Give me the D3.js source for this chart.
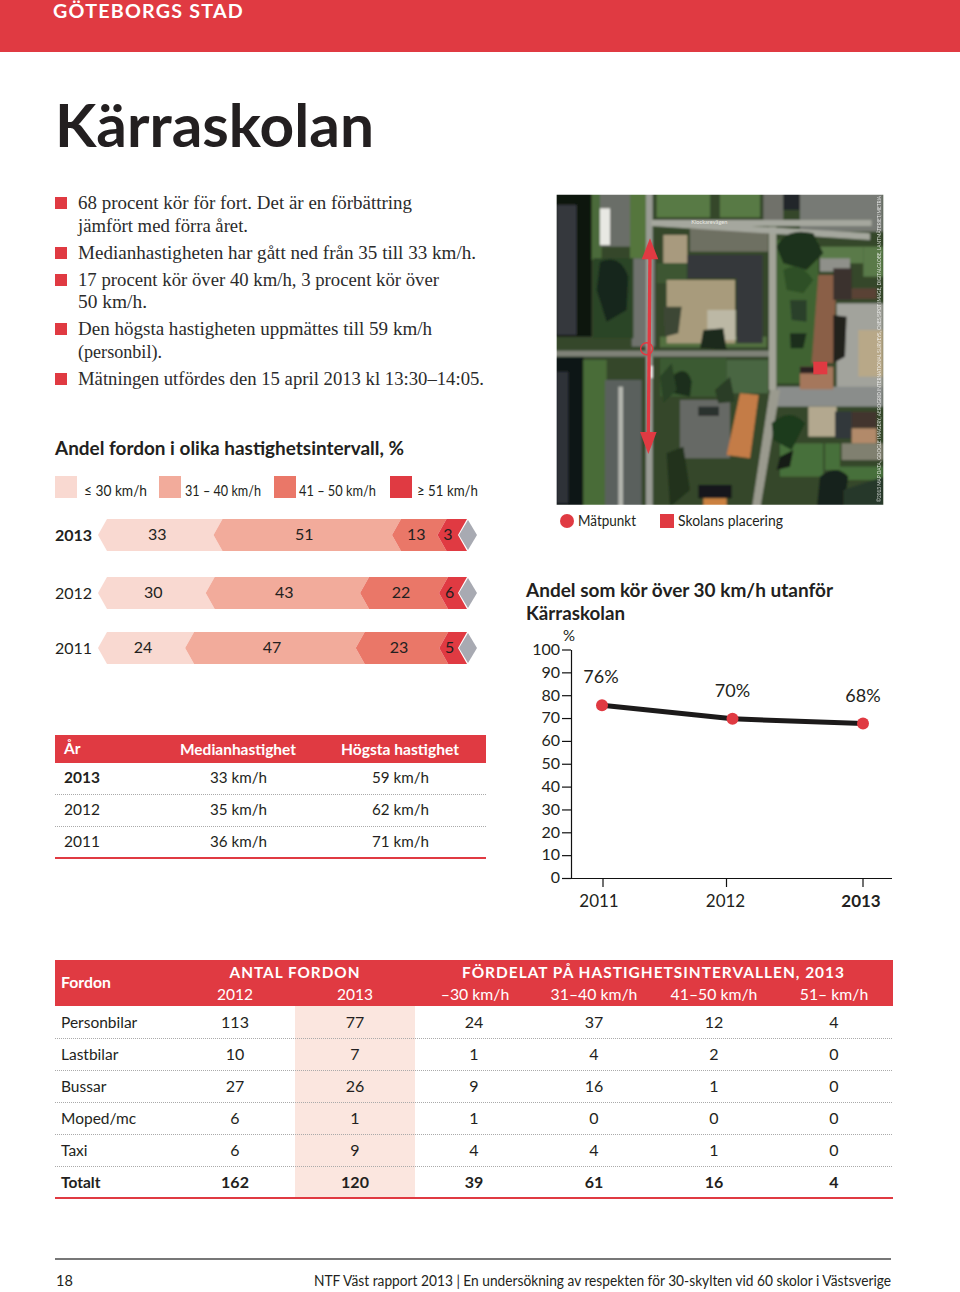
<!DOCTYPE html>
<html><head><meta charset="utf-8">
<script src="https://cdn.jsdelivr.net/npm/d3@7"></script>
<style>
html,body{margin:0;padding:0;background:#fff}
svg{display:block}
text{font-family:Lato,"Noto Sans",sans-serif;fill:#222}
.serif{font-family:"Liberation Serif",serif}
</style></head><body>
<svg id="c" width="960" height="1292"></svg>
<script>
const RED="#e03a42", TXT="#231f20";
const bullets=[
 ["68 procent kör för fort. Det är en förbättring","jämfört med förra året."],
 ["Medianhastigheten har gått ned från 35 till 33 km/h."],
 ["17 procent kör över 40 km/h, 3 procent kör över","50 km/h."],
 ["Den högsta hastigheten uppmättes till 59 km/h","(personbil)."],
 ["Mätningen utfördes den 15 april 2013 kl 13:30–14:05."]];
const speedBands=["≤ 30 km/h","31 – 40 km/h","41 – 50 km/h","≥ 51 km/h"];
const bandColors=["#f9d9d1","#f2ab9b","#ea7768","#e03a42"];
const barYears=["2013","2012","2011"];
const share2013=[33,51,13,3];
const share2012=[30,43,22,6];
const share2011=[24,47,23,5];
const lineYears=["2011","2012","2013"];
const lineValues=[76,70,68];
const lineTicks=[0,10,20,30,40,50,60,70,80,90,100];
const speedHead=["År","Medianhastighet","Högsta hastighet"];
const speedYears=["2013","2012","2011"];
const medianSpeed=["33 km/h","35 km/h","36 km/h"];
const maxSpeed=["59 km/h","62 km/h","71 km/h"];
const vehicles=["Personbilar","Lastbilar","Bussar","Moped/mc","Taxi","Totalt"];
const count2012=[113,10,27,6,6,162];
const count2013=[77,7,26,1,9,120];
const band30=[24,1,9,1,4,39];
const band40=[37,4,16,0,4,61];
const band50=[12,2,1,0,1,16];
const band51=[4,0,0,0,0,4];
const vehHead=["–30 km/h","31–40 km/h","41–50 km/h","51– km/h"];

const svg=d3.select("#c");
const T=(p,s,x,y,o={})=>{const t=p.append("text").text(s).attr("x",x).attr("y",y)
  .attr("font-size",o.size||16).attr("font-weight",o.w||400).attr("text-anchor",o.a||"start")
  .style("fill",o.fill||TXT);
  if(o.ls)t.style("letter-spacing",o.ls+"px"); if(o.cls)t.attr("class",o.cls); if(o.len)t.attr("textLength",o.len).attr("lengthAdjust","spacingAndGlyphs"); return t;};

// header
svg.append("rect").attr("width",960).attr("height",52).attr("fill",RED);
T(svg,"GÖTEBORGS STAD",53,18,{size:19.5,w:700,fill:"#fff",ls:1.2,len:191});
T(svg,"Kärraskolan",55,147,{size:60,w:700,len:319});

// bullets
const lineYs=[[209,232],[259],[286,308],[335,358],[385]];
const lineLens=[[334,170],[398],[361,69],[354,84],[406]];
bullets.forEach((ls,i)=>{
  svg.append("rect").attr("x",55).attr("y",lineYs[i][0]-12).attr("width",12).attr("height",12).attr("fill",RED);
  ls.forEach((l,j)=>T(svg,l,78,lineYs[i][j],{size:19,cls:"serif",fill:"#2b2b2b",len:lineLens[i][j]}));
});

// stacked chevrons
T(svg,"Andel fordon i olika hastighetsintervall, %",55,455,{size:19,w:700,len:349});
const legX=[55,159,274,390], legTX=[84,185,299,417], legLen=[63,76,77,61];
speedBands.forEach((b,i)=>{
  svg.append("rect").attr("x",legX[i]).attr("y",476).attr("width",22).attr("height",22).attr("fill",bandColors[i]);
  T(svg,b,legTX[i],496,{size:14.5,len:legLen[i]});
});
const rows=[{y:barYears[0],v:share2013,top:519,end:448,bold:true},
            {y:barYears[1],v:share2012,top:577,end:457},
            {y:barYears[2],v:share2011,top:632,end:461}];
const H=32,D=9,X100=458;
rows.forEach(r=>{
  const x=d3.scaleLinear().domain([0,100]).range([98,r.end]);
  T(svg,r.y,55,r.top+22,{size:16,w:r.bold?700:400});
  let c=0; const cuts=r.v.map(d=>{const a=c;c+=d;return [a,c];});
  cuts.forEach(([a,b],i)=>{
    const L=x(a), Rr=i==3?X100:x(b);
    svg.append("path").attr("fill",bandColors[i])
     .attr("d",`M${L},${r.top+H/2}L${L+D},${r.top}L${Rr+D},${r.top}L${Rr},${r.top+H/2}L${Rr+D},${r.top+H}L${L+D},${r.top+H}Z`);
  });
  cuts.forEach(([a,b],i)=>{
    const Rr=i==3?X100:x(b);
    const cx=(x(a)+Rr)/2+1.5;
    T(svg,r.v[i],i==3?x(a)+D+1.5:cx,r.top+21,{size:16,a:"middle"});
  });
  svg.append("path").attr("fill","#a8aab2")
    .attr("d",`M${X100+1},${r.top+H/2}L${X100+10},${r.top+1}L${X100+19},${r.top+H/2}L${X100+10},${r.top+H-1}Z`);
});

// map (schematic stand-in for the aerial photo), drawn in crop coordinates
const defs=svg.append("defs");
defs.append("clipPath").attr("id","mc").append("rect").attr("x",20).attr("y",14).attr("width",980).attr("height",930);
defs.append("filter").attr("id","soft").attr("x","-5%").attr("y","-5%").attr("width","110%").attr("height","110%")
  .append("feGaussianBlur").attr("stdDeviation",3.2);
const m=svg.append("g").attr("transform","translate(550,190) scale(.3333)");
const mp=m.append("g").attr("clip-path","url(#mc)").append("g").attr("filter","url(#soft)");
const R=(x,y,w,h,f)=>mp.append("rect").attr("x",x).attr("y",y).attr("width",w).attr("height",h).attr("fill",f);
const P=(d,f)=>mp.append("path").attr("d",d).attr("fill",f);
R(0,0,1020,960,"#344729");
[[0,0,125,440,"#0e1210"],[20,45,60,390,"#35393d"],[125,0,30,210,"#4b6a3a"],[150,0,95,170,"#6a6e68"],[240,0,48,205,"#55763c"],
 [0,500,100,460,"#0f1412"],[20,545,35,395,"#2f3338"],[100,510,70,450,"#4a6c38"],[165,570,110,390,"#5a605d"],[205,590,14,370,"#b3b5ae"],
 [245,205,70,265,"#6f726d"],[130,205,120,240,"#2c4427"],
 [320,0,160,82,"#587a45"],[510,0,120,82,"#587a45"],[640,0,60,100,"#6f716b"],[700,0,50,60,"#24272a"],[750,0,250,125,"#777a74"],
 [420,115,235,70,"#6e6f62"],[340,135,72,85,"#a89a7e"],[320,220,90,60,"#3c5731"],
 [680,150,125,430,"#3f6433"],[810,170,130,50,"#5a7a48"],[810,205,90,40,"#8f908a"],[940,170,60,90,"#5a7a48"],
 [860,340,140,270,"#a2a39c"],[925,420,75,140,"#b8a888"],
 [680,590,320,60,"#8a8d8b"],[330,505,200,115,"#3a5a31"],[530,510,125,100,"#4a6642"],[330,440,320,32,"#52703f"],
 [390,630,150,175,"#666965"],[775,650,85,90,"#b3a88f"],[690,760,130,100,"#47703a"],[825,760,45,80,"#47703a"],
 [875,760,125,50,"#80806f"],[870,830,130,40,"#47703a"]]
 .forEach(a=>R(...a));
[[288,0,20,960,"#9a9c95"],[305,90,660,18,"#a5a79e"],[0,482,660,18,"#7f8278"],[657,110,22,490,"#a3a498"]].forEach(a=>R(...a));
P("M305,90L960,130L960,150L305,108Z","#a5a79e");
P("M660,600L690,600L630,960L605,960Z","#9a9a8e");
P("M412,195L638,195L638,460L560,460L560,265L412,265Z","#36383b");
R(350,270,205,190,"#a89b7c");R(472,360,85,90,"#bcb8a5");
P("M340,350L395,350L385,430L345,440Z","#3e4735");
P("M460,420L520,415L530,480L450,475Z","#1f2b1c");
P("M570,610L626,615L600,805L530,795Z","#c47c46");
R(445,650,62,28,"#2c302d");
P("M805,255L860,255L850,520L785,520Z","#8a5f46");
R(850,235,55,95,"#3a332e");R(905,295,75,32,"#5a4334");
P("M850,375L890,380L885,500L850,520Z","#23241f");
R(750,530,100,68,"#a5775c");R(750,530,60,20,"#2a2420");
R(855,665,50,80,"#33373b");R(905,665,75,50,"#42352d");R(905,715,75,45,"#b28a6a");
R(445,885,100,40,"#14181a");R(460,925,70,30,"#cb8140");
R(150,55,30,110,"#e8e8e3");R(298,528,10,36,"#f2f2ef");
P("M680,170Q710,110 790,130L820,190L770,240L700,220Z","#1f321c");
P("M150,215Q210,190 235,260L230,360L170,395L140,300Z","#16261a");
P("M700,240Q750,210 790,270L760,310L710,300Z","#2f4f28");
P("M720,330L770,330L770,395L725,390Z","#29402a");
P("M720,430L770,430L760,475L722,475Z","#1d2f1c");
P("M365,560Q410,520 425,575L420,620L372,610Z","#1c2f1a");
P("M495,600L540,560L555,635L505,640Z","#2a3d26");
P("M665,700Q720,650 765,700L725,780L670,750Z","#1f3a1f");
P("M810,860Q860,820 895,860L880,960L800,960Z","#15221a");
P("M350,790L400,770L420,900L360,950Z","#20321e");
P("M880,900L1000,860L1000,960L880,960Z","#27392a");
P("M690,800L730,780L720,830L680,840Z","#161f18");
P("M330,560L365,520L380,600L340,640Z","#2a4326");
// red route and school marker
const mr=m.append("g").attr("fill",RED).attr("stroke",RED);
mr.append("line").attr("x1",300).attr("y1",190).attr("x2",295).attr("y2",750).attr("stroke-width",10);
mr.append("path").attr("d","M300,145L325,208L275,208Z").attr("stroke","none");
mr.append("path").attr("d","M295,792L270,726L320,726Z").attr("stroke","none");
mr.append("circle").attr("cx",290).attr("cy",476).attr("r",18).attr("fill","none").attr("stroke-width",4.5);
mr.append("rect").attr("x",790).attr("y",515).attr("width",42).attr("height",38).attr("stroke","none");
m.append("text").text("Klockarevägen").attr("x",478).attr("y",103).attr("text-anchor","middle").attr("font-size",17).style("fill","#e8e8e0");
svg.append("text").text("©2013 MAP DATA, GOOGLE IMAGERY, AEROGRID INTERNATIONAL SURVEYS, CNES/SPOT IMAGE, DIGITALGLOBE, LANTMÄTERIET/METRIA")
  .attr("transform","translate(881,502) rotate(-90)").attr("font-size",5.6).attr("textLength",306).attr("lengthAdjust","spacingAndGlyphs").style("fill","#fff").attr("opacity",.8);
// map legend
svg.append("circle").attr("cx",567).attr("cy",521).attr("r",7).attr("fill",RED);
T(svg,"Mätpunkt",578,526,{size:14.5,len:58});
svg.append("rect").attr("x",660).attr("y",514).attr("width",14).attr("height",14).attr("fill",RED);
T(svg,"Skolans placering",678,526,{size:14.5,len:105});

// line chart
T(svg,"Andel som kör över 30 km/h utanför",526,597,{size:19,w:700,len:307});
T(svg,"Kärraskolan",526,620,{size:19,w:700,len:99});
T(svg,"%",563,641,{size:15});
const y=d3.scaleLinear().domain([0,100]).range([878,649.5]);
const xAxisPos=d3.scaleOrdinal(lineYears,[602.5,726,862.5]);
const xDot=d3.scaleOrdinal(lineYears,[602,732.5,863]);
const gy=svg.append("g").attr("transform","translate(571,0)").call(d3.axisLeft(y).tickValues(lineTicks).tickSize(9).tickSizeOuter(0).tickPadding(2));
gy.selectAll("line,path").attr("stroke","#111").attr("stroke-width",1.2);
gy.selectAll("text").attr("font-size",16).style("font-family","Lato").style("fill",TXT).attr("dy",".3em");
const gx=svg.append("g").attr("transform","translate(0,878)").call(d3.axisBottom(xAxisPos).tickSize(9).tickSizeOuter(0).tickPadding(6));
gx.select("path").attr("d","M562,0.5H892").attr("stroke","#111").attr("stroke-width",1.2);
gx.selectAll("line").attr("stroke","#111").attr("stroke-width",1.2);
gx.selectAll("text").attr("font-size",17).style("font-family","Lato").style("fill",TXT)
  .attr("font-weight",d=>d=="2013"?700:400).attr("dx",d=>d=="2011"?-4:d=="2012"?-1:-2).attr("dy",".8em");
const line=d3.line().x((d,i)=>xDot(lineYears[i])).y(d=>y(d)+.8);
svg.append("path").datum(lineValues).attr("d",line).attr("fill","none").attr("stroke","#1c1a1a").attr("stroke-width",5);
svg.selectAll(".dot").data(lineValues).join("circle").attr("cx",(d,i)=>xDot(lineYears[i])).attr("cy",d=>y(d)+.8).attr("r",6).attr("fill",RED);
lineValues.forEach((v,i)=>T(svg,v+"%",xDot(lineYears[i])-(i==0?1:0),y(v)-21,{size:18,a:"middle"}));

// speed table
svg.append("rect").attr("x",55).attr("y",735).attr("width",431).attr("height",28).attr("fill",RED);
T(svg,speedHead[0],64,754,{size:15.5,w:700,fill:"#fff"});
T(svg,speedHead[1],238,755,{size:15.5,w:700,fill:"#fff",a:"middle",len:116});
T(svg,speedHead[2],400,755,{size:15.5,w:700,fill:"#fff",a:"middle",len:118});
speedYears.forEach((yr,i)=>{
  const by=783+32*i;
  T(svg,yr,64,by,{size:15.5,w:i?400:700});
  T(svg,medianSpeed[i],238.5,by,{size:15.5,a:"middle",len:57});
  T(svg,maxSpeed[i],400.5,by,{size:15.5,a:"middle",len:57});
  if(i<2) svg.append("line").attr("x1",55).attr("x2",486).attr("y1",794.5+32*i).attr("y2",794.5+32*i).attr("stroke","#aaa").attr("stroke-dasharray","1 1");
});
svg.append("rect").attr("x",55).attr("y",857).attr("width",431).attr("height",2).attr("fill",RED);

// vehicle table
svg.append("rect").attr("x",55).attr("y",960).attr("width",838).attr("height",46).attr("fill",RED);
svg.append("rect").attr("x",295).attr("y",1006).attr("width",120).attr("height",192).attr("fill","#fbe6df");
T(svg,"Fordon",61,988,{size:16,w:700,fill:"#fff",len:50});
T(svg,"ANTAL FORDON",295,978,{size:15.5,w:700,fill:"#fff",a:"middle",ls:1,len:131});
T(svg,"FÖRDELAT PÅ HASTIGHETSINTERVALLEN, 2013",653.5,978,{size:15.5,w:700,fill:"#fff",a:"middle",ls:1,len:383});
const cols=[235,355,474,594,714,834];
T(svg,"2012",cols[0],999.5,{size:15.5,fill:"#fff",a:"middle"});
T(svg,"2013",cols[1],999.5,{size:15.5,fill:"#fff",a:"middle"});
vehHead.forEach((h,i)=>T(svg,h,cols[i+2]+(i==0?1:0),999.5,{size:15.8,fill:"#fff",a:"middle"}));
const tableCols=[count2012,count2013,band30,band40,band50,band51];
vehicles.forEach((v,r)=>{
  const by=1027.5+32*r, w=r==5?700:400;
  T(svg,v,61,by,{size:15.5,w});
  tableCols.forEach((col,c)=>T(svg,col[r],cols[c],by,{size:16,w,a:"middle"}));
  if(r<5) svg.append("line").attr("x1",55).attr("x2",893).attr("y1",1038.5+32*r).attr("y2",1038.5+32*r).attr("stroke","#aaa").attr("stroke-dasharray","1 1");
});
svg.append("rect").attr("x",55).attr("y",1197).attr("width",838).attr("height",2).attr("fill",RED);

// footer
svg.append("rect").attr("x",55).attr("y",1258).attr("width",836).attr("height",2).attr("fill","#777");
T(svg,"18",56,1286,{size:14.5});
T(svg,"NTF Väst rapport 2013 | En undersökning av respekten för 30-skylten vid 60 skolor i Västsverige",891,1286,{size:14.5,a:"end",len:577});
</script></body></html>
